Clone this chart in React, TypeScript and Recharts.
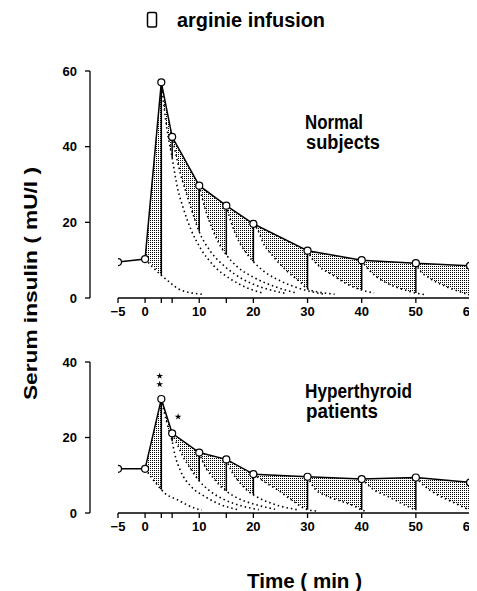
import React from 'react';
import { ComposedChart, Line, Area, XAxis, YAxis, ZAxis, Scatter, ReferenceLine } from 'recharts';

// sampling times (min)
const times = [-5, 0, 3, 5, 10, 15, 20, 30, 40, 50, 60];
const xTicks = [-5, 0, 3, 5, 10, 15, 20, 30, 40, 50, 60];
const xLabelled = [-5, 0, 10, 20, 30, 40, 50, 60];

// serum insulin (mU/l)
const normalInsulin = [9.5, 10.3, 57, 42.6, 29.7, 24.4, 19.6, 12.5, 10, 9.2, 8.5];
const hyperInsulin = [11.7, 11.7, 30.2, 21.1, 16, 14.2, 10.3, 9.6, 9.0, 9.4, 8.1];

// dotted decay curves starting at each sample (t, insulin)
const normalDecays: number[][][] = [
  [[0, 10.3], [3, 6], [4, 4.8], [6.6, 2.1], [10.5, 1]],
  [[3, 57], [4, 45], [5, 37], [6, 29], [7, 24], [8.5, 18], [10.3, 13], [12.7, 8.5], [15.8, 5], [19.5, 2.3], [22, 1.2]],
  [[5, 42.6], [6.6, 32.5], [8, 26], [9, 21.5], [10, 17.5], [12, 12.5], [15, 8], [18, 5], [22, 2.6], [26, 1.2]],
  [[10, 29.7], [11, 24], [12.5, 18], [14, 13.5], [15, 11.4], [17, 8.3], [20, 5.5], [24, 3], [28, 1.3]],
  [[15, 24.4], [16, 19.5], [17.5, 14.5], [19, 11.3], [20, 9.6], [22, 7], [25, 4.5], [29, 2.3], [33, 1]],
  [[20, 19.6], [20.8, 18], [21.8, 14.6], [23.7, 10.9], [26.3, 7], [28.8, 4], [30, 2.4], [32, 1.6], [35, 1]],
  [[30, 12.5], [30.4, 11.4], [32.2, 8.3], [34.6, 6.1], [37, 3.9], [40, 2.1], [42.3, 1.3]],
  [[40, 10], [40.3, 9.3], [42.3, 6.1], [44.7, 3.9], [48, 2.1], [50, 1.3], [52, 0.8]],
  [[50, 9.2], [50.4, 8], [52.5, 5.3], [55.6, 3], [60, 0.8]],
];

const hyperDecays: number[][][] = [
  [[0, 11.7], [3, 6.2], [3.6, 5.3], [6, 3.5], [9.1, 1.3], [10.5, 0.8]],
  [[3, 30.2], [4, 24], [5, 19], [5.5, 15.5], [6.6, 11], [8.5, 7], [11, 4.4], [14, 2.2], [17, 0.9]],
  [[5, 21.1], [6, 18], [7, 15], [8.5, 11.5], [10, 8.5], [12, 5.8], [15, 3.3], [18, 1.8], [21, 0.9]],
  [[10, 16], [11, 12.5], [12.5, 9.5], [14, 7], [15, 5.8], [17, 4], [20, 2.4], [24, 1]],
  [[15, 14.2], [16, 11], [17.5, 8], [19, 5.8], [20, 4.8], [22, 3.3], [25, 1.8], [28, 0.9]],
  [[20, 10.3], [22, 8.3], [24.5, 6.1], [27, 3.5], [30, 0.9], [32, 0.5]],
  [[30, 9.6], [31.3, 6.5], [33.7, 4.4], [36.2, 3.1], [38.7, 1.8], [40, 0.8], [41, 0.5]],
  [[40, 9.0], [40.8, 7.9], [42.3, 6.1], [44.8, 4.4], [47.3, 2.6], [50, 0.7]],
  [[50, 9.4], [51, 7.9], [53.4, 5.3], [56.5, 3.1], [60, 0.7]],
];

// significance marks
const hyperStars = [
  { x: 2.7, y: 36.3 },
  { x: 2.7, y: 34.1 },
  { x: 6.1, y: 25.5 },
];

const normalYTicks = [0, 20, 40, 60];
const hyperYTicks = [0, 20, 40];

const tickFont = { fontFamily: "'Liberation Sans', Arial, sans-serif", fontSize: 13, fontWeight: 700, fill: '#000' };
const labelFont = "'Liberation Sans Narrow', 'Liberation Sans', Arial, sans-serif";

function buildPanel(values: number[], decays: number[][][]) {
  const obs = times.map((t, i) => ({ x: t, y: values[i] }));
  const segs = decays.map((d, i) => {
    const t0 = times[i + 1];
    const t1 = times[i + 2];
    const y0 = values[i + 1];
    const y1 = values[i + 2];
    const pts = d.map(([x, y]) => ({ x, y }));
    const inside = pts.filter((p) => p.x >= t0 && p.x <= t1);
    const footPt = pts.find((p) => p.x === t1);
    const foot = footPt ? footPt.y : 0;
    return {
      upper: [{ x: t0, y: y0 }, { x: t1, y: y1 }],
      mask: inside,
      dotted: pts,
      vertical: [{ x: t1, y: y1 }, { x: t1, y: foot }],
    };
  });
  return { obs, segs };
}

const fmtX = (v: number) => (xLabelled.includes(v) ? (v < 0 ? '\u2212' + Math.abs(v) : String(v)) : '');

function Panel(props: {
  values: number[];
  decays: number[][][];
  yMax: number;
  yTicks: number[];
  height: number;
  marginTop: number;
  id: string;
  stars?: { x: number; y: number }[];
}) {
  const { values, decays, yMax, yTicks, height, marginTop, id, stars } = props;
  const { obs, segs } = buildPanel(values, decays);
  return (
    <ComposedChart width={469} height={height} margin={{ top: marginTop, right: 7, bottom: 0, left: 22 }}>
      <defs>
        <pattern id={id} width="2" height="2" patternUnits="userSpaceOnUse">
          <rect x="0" y="0" width="1" height="1" fill="#000" />
        </pattern>
      </defs>
      <XAxis
        type="number"
        dataKey="x"
        domain={[-5, 60]}
        ticks={xTicks}
        interval={0}
        padding={{ left: 28, right: 0 }}
        axisLine={false}
        tickLine={{ stroke: '#000', strokeWidth: 1.3 }}
        tickSize={5}
        tickMargin={4}
        tick={tickFont}
        tickFormatter={fmtX}
        allowDataOverflow
        height={30}
      />
      <YAxis
        type="number"
        dataKey="y"
        domain={[0, yMax]}
        ticks={yTicks}
        interval={0}
        width={60}
        axisLine={{ stroke: '#000', strokeWidth: 1.3 }}
        tickLine={{ stroke: '#000', strokeWidth: 1.3 }}
        tickSize={5}
        tickMargin={8}
        tick={tickFont}
        allowDataOverflow
      />
      <ZAxis range={[14, 14]} />
      {segs.map((s, i) => (
        <Area
          key={'u' + i}
          data={s.upper}
          dataKey="y"
          type="linear"
          stroke="none"
          fill={`url(#${id})`}
          fillOpacity={1}
          shapeRendering="crispEdges"
          dot={false}
          activeDot={false}
          isAnimationActive={false}
        />
      ))}
      {segs.map((s, i) => (
        <Area
          key={'m' + i}
          data={s.mask}
          dataKey="y"
          type="monotone"
          stroke="none"
          fill="#fff"
          fillOpacity={1}
          shapeRendering="crispEdges"
          dot={false}
          activeDot={false}
          isAnimationActive={false}
        />
      ))}
      {segs.map((s, i) => (
        <Line
          key={'d' + i}
          data={s.dotted}
          dataKey="y"
          type="monotone"
          stroke="#000"
          strokeWidth={1.6}
          strokeDasharray="1.5 3"
          dot={false}
          activeDot={false}
          isAnimationActive={false}
        />
      ))}
      {segs.map((s, i) => (
        <Line
          key={'v' + i}
          data={s.vertical}
          dataKey="y"
          type="linear"
          stroke="#000"
          strokeWidth={1.5}
          dot={false}
          activeDot={false}
          isAnimationActive={false}
        />
      ))}
      <ReferenceLine
        segment={[{ x: -5, y: 0 }, { x: 60, y: 0 }]}
        stroke="#000"
        strokeWidth={1.5}
        ifOverflow="visible"
      />
      <Line
        data={obs}
        dataKey="y"
        type="linear"
        stroke="#000"
        strokeWidth={1.5}
        dot={{ r: 3.5, fill: '#fff', stroke: '#000', strokeWidth: 1.2 }}
        activeDot={false}
        isAnimationActive={false}
      />
      {stars ? (
        <Scatter data={stars} dataKey="y" shape="star" fill="#000" isAnimationActive={false} legendType="none" />
      ) : null}
    </ComposedChart>
  );
}

export default function App() {
  return (
    <div style={{ position: 'relative', width: 469, height: 583, background: '#fff' }}>
      <div style={{ position: 'absolute', left: 0, top: 40 }}>
        <Panel values={normalInsulin} decays={normalDecays} yMax={60} yTicks={normalYTicks} height={280} marginTop={23} id="stipTop" />
      </div>
      <div style={{ position: 'absolute', left: 0, top: 322 }}>
        <Panel values={hyperInsulin} decays={hyperDecays} yMax={40} yTicks={hyperYTicks} height={213} marginTop={32} id="stipBot" stars={hyperStars} />
      </div>
      <svg width={469} height={583} style={{ position: 'absolute', left: 0, top: 0, pointerEvents: 'none' }}>
        <g transform="translate(-8,-8)" fontFamily={labelFont} fontWeight={700} fill="#000">
          <rect x={147.5} y={12.5} width={9} height={14.5} rx={1.5} fill="none" stroke="#000" strokeWidth={1.5} />
          <text x={177} y={27} fontSize={20} textLength={148} lengthAdjust="spacingAndGlyphs">arginie infusion</text>
          <text x={305} y={129} fontSize={20} textLength={58} lengthAdjust="spacingAndGlyphs">Normal</text>
          <text x={306} y={149} fontSize={20} textLength={74} lengthAdjust="spacingAndGlyphs">subjects</text>
          <text x={305} y={398} fontSize={20} textLength={107} lengthAdjust="spacingAndGlyphs">Hyperthyroid</text>
          <text x={306} y={418} fontSize={20} textLength={72} lengthAdjust="spacingAndGlyphs">patients</text>
          <text x={247} y={588} fontSize={20} textLength={115} lengthAdjust="spacingAndGlyphs">Time ( min )</text>
          <text transform="translate(37,400) rotate(-90)" x={0} y={0} fontSize={19} textLength={233} lengthAdjust="spacingAndGlyphs">Serum insulin ( mU/l )</text>
        </g>
      </svg>
    </div>
  );
}
